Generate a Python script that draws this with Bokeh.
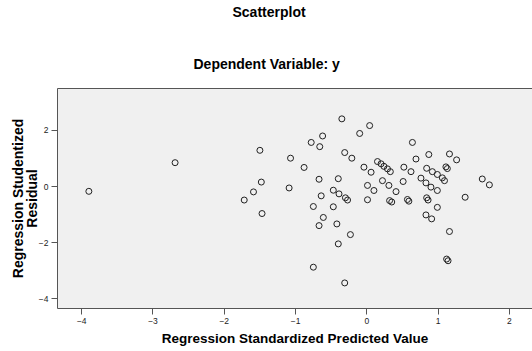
from bokeh.plotting import figure
from bokeh.models import LinearAxis, FixedTicker, Range1d, Title
from bokeh.embed import file_html
from bokeh.resources import INLINE

# Regression standardized predicted value (x) and studentized residual (y)
pred = [-3.90, -2.69, -1.50, -1.48, -1.59, -1.72, -1.47, -1.07, -1.09, -0.88,
        -0.78, -0.66, -0.62, -0.35, -0.67, -0.40, -0.64, -0.47, -0.39, -0.75,
        -0.61, -0.67, -0.47, -0.42, -0.40, -0.75, -0.10, 0.04, -0.31, -0.21,
        -0.30, -0.27, -0.23, -0.31, -0.04, 0.06, 0.15, 0.20, 0.24, 0.29,
        0.33, 0.22, 0.31, 0.41, 0.01, 0.10, 0.01, 0.32, 0.35, 0.51,
        0.52, 0.62, 0.76, 0.83, 0.90, 0.99, 0.57, 0.59, 0.64, 0.69,
        0.87, 0.84, 0.92, 0.99, 1.06, 1.09, 1.11, 1.13, 1.16, 1.26,
        1.38, 1.62, 1.72, 0.84, 0.86, 0.99, 0.83, 0.91, 1.16, 1.12, 1.14]
resid = [-0.17, 0.85, 1.29, 0.16, -0.19, -0.48, -0.96, 1.01, -0.05, 0.68,
         1.57, 1.42, 1.80, 2.41, 0.26, 0.28, -0.33, -0.13, -0.26, -0.71,
         -1.10, -1.39, -0.72, -1.33, -2.04, -2.87, 1.89, 2.17, 1.21, 1.01,
         -0.40, -0.48, -1.71, -3.43, 0.69, 0.51, 0.89, 0.81, 0.72, 0.63,
         0.53, 0.21, 0.04, -0.18, 0.04, -0.14, -0.47, -0.50, -0.55, 0.18,
         0.69, 0.53, 0.30, 0.13, -0.02, -0.14, -0.46, -0.52, 1.57, 0.98,
         1.14, 0.65, 0.53, 0.43, 0.31, 0.21, 0.70, 0.64, 1.16, 0.95,
         -0.38, 0.27, 0.06, -0.40, -0.48, -0.74, -1.01, -1.15, -1.60, -2.58, -2.64]
x_ticks = [-4, -3, -2, -1, 0, 1, 2]
y_ticks = [-4, -2, 0, 2]

FONT = "Liberation Sans"
AXC = "#555555"

p = figure(width=532, height=351,
           x_range=Range1d(-4.34, 2.325), y_range=Range1d(-4.34, 3.49),
           output_backend="svg", toolbar_location=None, title=None,
           min_border_left=57, min_border_right=0, min_border_top=88, min_border_bottom=43)
p.background_fill_color = "#f0f0f0"
p.border_fill_color = "white"
p.outline_line_color = None
p.grid.visible = False

p.scatter(pred, resid, marker="circle", size=6, fill_color=None,
          line_color="#202020", line_width=1)

for ax in [p.xaxis[0], p.yaxis[0]]:
    ax.axis_line_color = AXC
    ax.major_tick_line_color = AXC
    ax.minor_tick_line_color = None
    ax.major_tick_out = 6
    ax.major_tick_in = 0
    ax.major_label_standoff = 3
    ax.major_label_text_font = FONT
    ax.major_label_text_font_size = "8.5px"
    ax.major_label_text_color = "#222222"
    ax.axis_label_text_font = FONT
    ax.axis_label_text_font_style = "bold"
    ax.axis_label_text_color = "black"

p.xaxis.ticker = FixedTicker(ticks=x_ticks)
p.yaxis.ticker = FixedTicker(ticks=y_ticks)
p.xaxis.axis_label = "Regression Standardized Predicted Value"
p.yaxis.axis_label = "Regression Studentized\nResidual"
p.xaxis.axis_label_text_font_size = "13.5px"
p.yaxis.axis_label_text_font_size = "14px"
p.yaxis.axis_label_text_line_height = 0.86
p.xaxis.axis_label_standoff = 4
p.yaxis.axis_label_standoff = -4

# top border line, with empty space between it and the subtitle
top = LinearAxis(ticker=FixedTicker(ticks=[]), major_label_text_font_size="0px",
                 major_label_standoff=0, major_tick_out=0, major_tick_in=0,
                 minor_tick_out=0, minor_tick_in=0,
                 axis_label="\u00a0", axis_label_standoff=0,
                 axis_label_text_font_size="12.5px",
                 major_tick_line_color=None, axis_line_color=AXC)
p.add_layout(top, "above")
p.add_layout(Title(text="Dependent Variable: y", align="left", offset=136, standoff=0,
                   vertical_align="bottom", text_font=FONT, text_font_size="14px",
                   text_font_style="bold", text_color="black"), "above")
p.add_layout(Title(text="Scatterplot\n\u00a0\n\u00a0", align="left", offset=175, standoff=0,
                   vertical_align="bottom", text_font=FONT, text_font_size="14px",
                   text_line_height=1.04, text_font_style="bold", text_color="black"), "above")

open("out.html", "w").write(file_html(p, INLINE))
